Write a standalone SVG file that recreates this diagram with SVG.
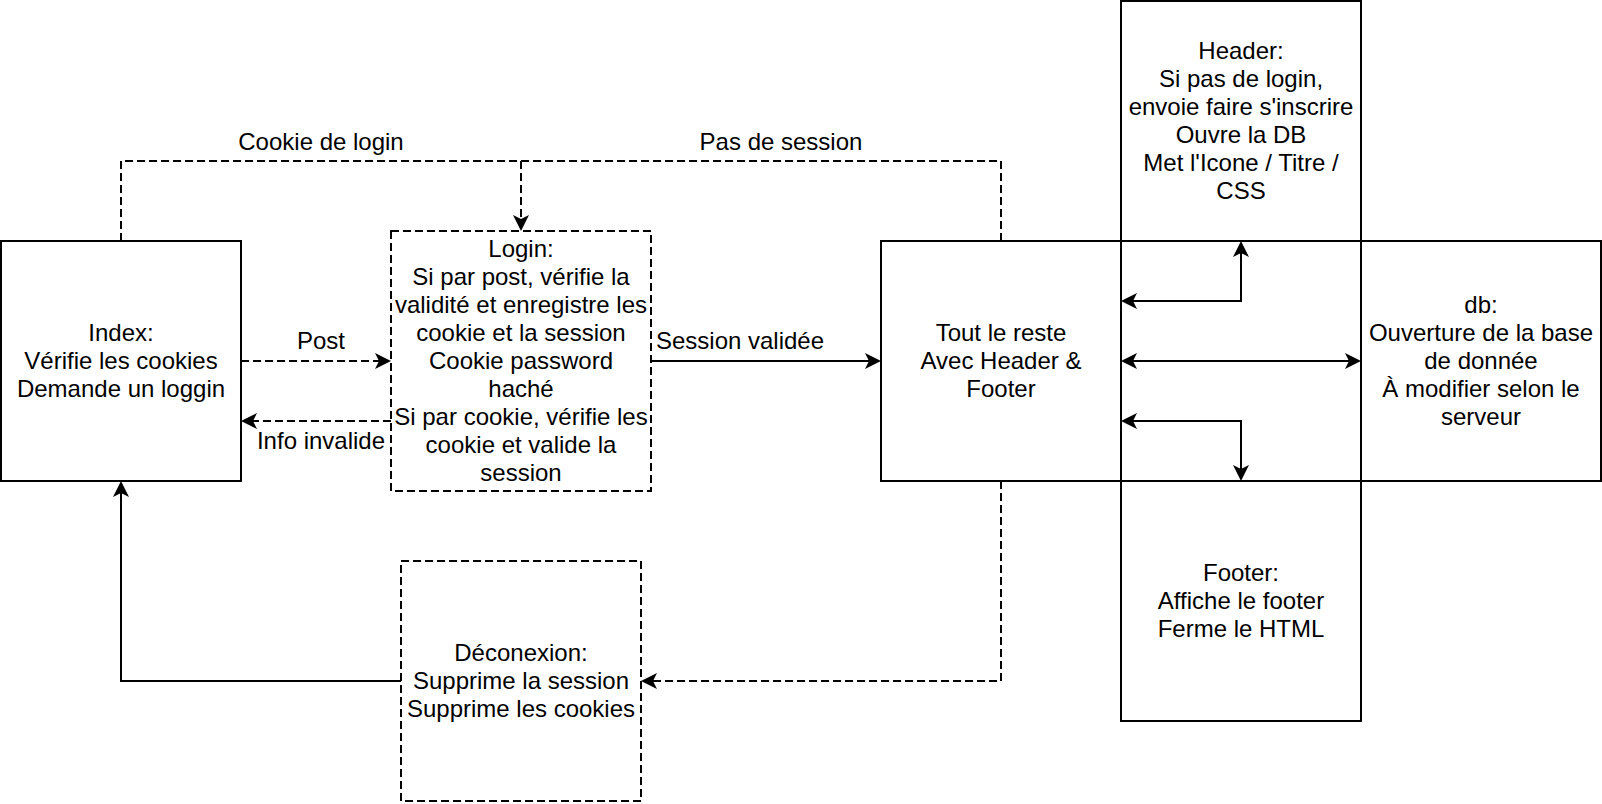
<svg xmlns="http://www.w3.org/2000/svg" width="1602" height="804" viewBox="0 0 1602 804">
<style>
.box{fill:#fff;stroke:#000;stroke-width:2}
.dbox{fill:#fff;stroke:#000;stroke-width:2;stroke-dasharray:8 4}
text{font-family:"Liberation Sans",Arial,sans-serif;font-size:24px;fill:#000;text-anchor:middle}
.c{fill:none;stroke:#000;stroke-width:2}
.d{stroke-dasharray:8 4}
.e{marker-end:url(#arr)}
.s{marker-start:url(#arr)}
</style>
<defs>
<marker id="arr" markerUnits="userSpaceOnUse" markerWidth="24" markerHeight="24" viewBox="-4 -12 24 24" refX="4" refY="0" orient="auto-start-reverse">
<path d="M16,0 L0,-8 L4,0 L0,8 Z" fill="#000" stroke="none"/>
</marker>
</defs>
<g id="index">
<rect class="box" x="1" y="241" width="240" height="240"/>
<text x="121" y="341.3">Index:</text>
<text x="121" y="369.3">Vérifie les cookies</text>
<text x="121" y="397.3">Demande un loggin</text>
</g>
<g id="login">
<rect class="dbox" x="391" y="231" width="260" height="260"/>
<text x="521" y="257.3">Login:</text>
<text x="521" y="285.3">Si par post, vérifie la</text>
<text x="521" y="313.3">validité et enregistre les</text>
<text x="521" y="341.3">cookie et la session</text>
<text x="521" y="369.3">Cookie password</text>
<text x="521" y="397.3">haché</text>
<text x="521" y="425.3">Si par cookie, vérifie les</text>
<text x="521" y="453.3">cookie et valide la</text>
<text x="521" y="481.3">session</text>
</g>
<g id="tout">
<rect class="box" x="881" y="241" width="240" height="240"/>
<text x="1001" y="341.3">Tout le reste</text>
<text x="1001" y="369.3">Avec Header &amp;</text>
<text x="1001" y="397.3">Footer</text>
</g>
<g id="header">
<rect class="box" x="1121" y="1" width="240" height="240"/>
<text x="1241" y="59.3">Header:</text>
<text x="1241" y="87.3">Si pas de login,</text>
<text x="1241" y="115.3">envoie faire s'inscrire</text>
<text x="1241" y="143.3">Ouvre la DB</text>
<text x="1241" y="171.3">Met l'Icone / Titre /</text>
<text x="1241" y="199.3">CSS</text>
</g>
<g id="db">
<rect class="box" x="1361" y="241" width="240" height="240"/>
<text x="1481" y="313.3">db:</text>
<text x="1481" y="341.3">Ouverture de la base</text>
<text x="1481" y="369.3">de donnée</text>
<text x="1481" y="397.3">À modifier selon le</text>
<text x="1481" y="425.3">serveur</text>
</g>
<g id="footer">
<rect class="box" x="1121" y="481" width="240" height="240"/>
<text x="1241" y="581.3">Footer:</text>
<text x="1241" y="609.3">Affiche le footer</text>
<text x="1241" y="637.3">Ferme le HTML</text>
</g>
<g id="deconexion">
<rect class="dbox" x="401" y="561" width="240" height="240"/>
<text x="521" y="661.3">Déconexion:</text>
<text x="521" y="689.3">Supprime la session</text>
<text x="521" y="717.3">Supprime les cookies</text>
</g>
<g id="connectors">
<path class="c d e" d="M121,241 V161 H521 V219"/>
<path class="c d" d="M1001,241 V161 H521"/>
<path class="c d e" d="M241,361 H379"/>
<path class="c d e" d="M391,421 H253"/>
<path class="c e" d="M651,361 H869"/>
<path class="c d e" d="M1001,481 V681 H653"/>
<path class="c e" d="M401,681 H121 V493"/>
<path class="c s e" d="M1133,301 H1241 V253"/>
<path class="c s e" d="M1133,361 H1349"/>
<path class="c s e" d="M1133,421 H1241 V469"/>
<text x="321" y="150">Cookie de login</text>
<text x="781" y="150">Pas de session</text>
<text x="321" y="349.3">Post</text>
<text x="321" y="449.3">Info invalide</text>
<text x="740" y="349">Session validée</text>
</g>
</svg>
